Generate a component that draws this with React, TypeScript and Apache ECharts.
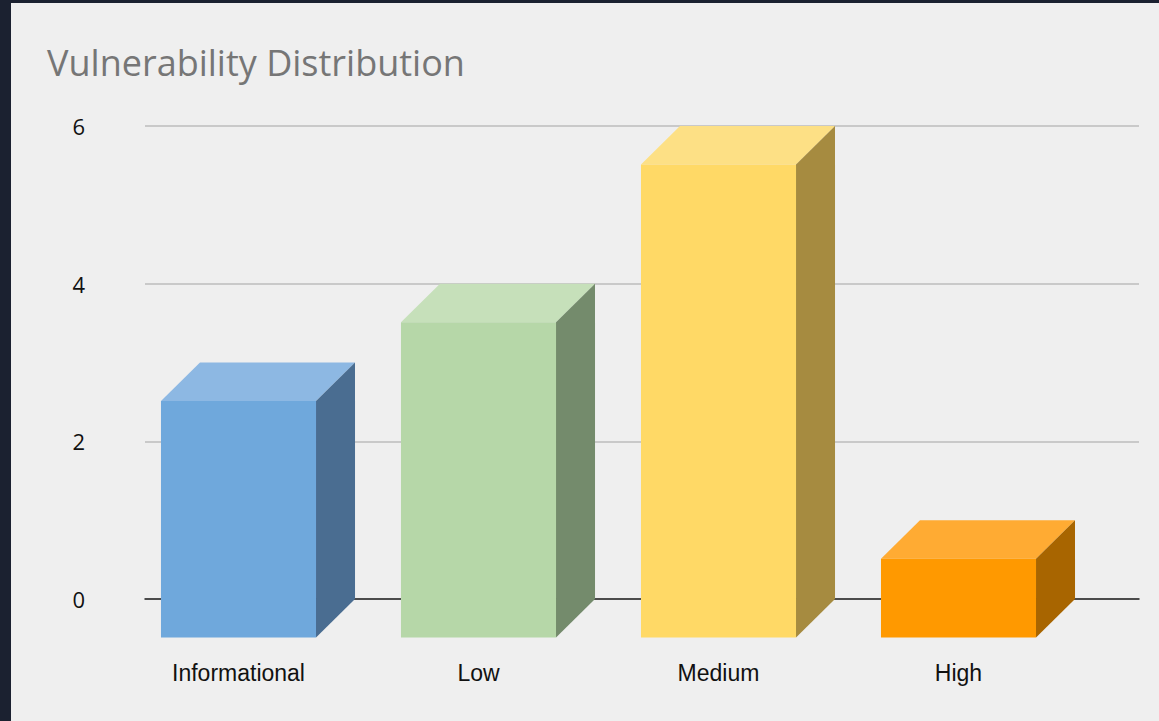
import React, { useEffect, useRef } from "react";
import * as echarts from "echarts";

const categories = ["Informational", "Low", "Medium", "High"];
const counts = [3, 4, 6, 1];
const yTicks = [0, 2, 4, 6];
const titleText = "Vulnerability Distribution";

const frontColors = ["#6fa8dc", "#b6d7a8", "#ffd966", "#ff9900"];
const topColors = ["#8db8e3", "#c6e0ba", "#fde085", "#ffab33"];
const sideColors = ["#4a6d91", "#748b6c", "#a68b40", "#a86500"];

const DX = 39;
const DY = 38.5;

export default function App() {
  const ref = useRef<HTMLDivElement>(null);
  useEffect(() => {
    if (!ref.current) return;
    const chart = echarts.init(ref.current, null, { renderer: "svg" });
    const yMin = yTicks[0];
    const yMax = yTicks[yTicks.length - 1];
    const interval = yTicks[1] - yTicks[0];
    chart.setOption({
      animation: false,
      title: {
        text: titleText,
        left: 42,
        top: 39,
        textStyle: {
          fontFamily: "Open Sans",
          fontSize: 36,
          fontWeight: "normal",
          color: "#767676",
        },
      },
      grid: [
        { left: 145, right: 20, top: 126, bottom: 122 },
        { left: 118.5, right: 80.5, top: 126, bottom: 122 },
      ],
      xAxis: [
        {
          gridIndex: 0,
          type: "category",
          data: categories,
          axisLine: { show: true, lineStyle: { color: "#222", width: 1.5 } },
          axisTick: { show: false },
          axisLabel: { show: false },
          splitLine: { show: false },
        },
        {
          gridIndex: 1,
          type: "category",
          data: categories,
          axisLine: { show: false },
          axisTick: { show: false },
          axisLabel: {
            margin: 62,
            fontFamily: "Liberation Sans",
            fontSize: 23,
            color: "#111",
          },
          splitLine: { show: false },
        },
      ],
      yAxis: [
        {
          gridIndex: 0,
          type: "value",
          min: yMin,
          max: yMax,
          interval,
          axisLine: { show: false },
          axisTick: { show: false },
          axisLabel: {
            margin: 60,
            align: "right",
            fontFamily: "Open Sans",
            fontSize: 22,
            color: "#111",
          },
          splitLine: { show: true, lineStyle: { color: "#bdbdbd", width: 1.5 } },
        },
        {
          gridIndex: 1,
          type: "value",
          min: yMin,
          max: yMax,
          interval,
          show: false,
          splitLine: { show: false },
        },
      ],
      series: [
        {
          type: "custom",
          xAxisIndex: 1,
          yAxisIndex: 1,
          data: counts.map((v, i) => [i, v]),
          renderItem: (params: any, api: any) => {
            const idx = api.value(0);
            const val = api.value(1);
            const top = api.coord([idx, val]);
            const base = api.coord([idx, 0]);
            const w = api.size([1, 0])[0] * 0.646;
            const cx = top[0];
            const fl = cx - w / 2;
            const fr = cx + w / 2;
            const ft = top[1] + DY;
            const fb = base[1] + DY;
            const i = params.dataIndex;
            return {
              type: "group",
              children: [
                {
                  type: "polygon",
                  shape: {
                    points: [
                      [fl, ft],
                      [fr, ft],
                      [fr + DX, ft - DY],
                      [fl + DX, ft - DY],
                    ],
                  },
                  style: { fill: topColors[i] },
                },
                {
                  type: "polygon",
                  shape: {
                    points: [
                      [fr, ft],
                      [fr + DX, ft - DY],
                      [fr + DX, fb - DY],
                      [fr, fb],
                    ],
                  },
                  style: { fill: sideColors[i] },
                },
                {
                  type: "rect",
                  shape: { x: fl, y: ft, width: w, height: fb - ft },
                  style: { fill: frontColors[i] },
                },
              ],
            };
          },
        },
      ],
    });
    return () => chart.dispose();
  }, []);

  return (
    <div
      style={{
        position: "fixed",
        left: 0,
        top: 0,
        width: 1159,
        height: 721,
        background: "#1b2130",
      }}
    >
      <div
        style={{
          position: "absolute",
          left: 11,
          top: 3,
          right: 0,
          bottom: 0,
          background: "#efefef",
        }}
      />
      <div
        ref={ref}
        style={{ position: "absolute", left: 0, top: 0, width: 1159, height: 721 }}
      />
    </div>
  );
}
